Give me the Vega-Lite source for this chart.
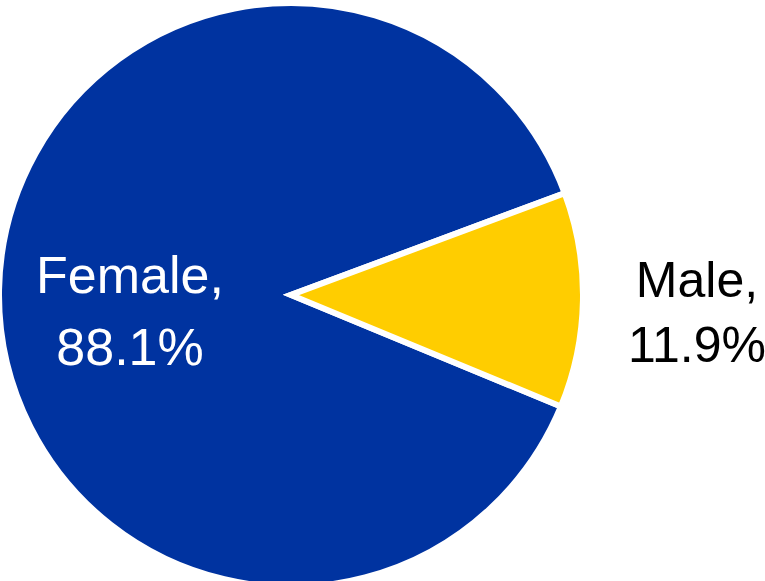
{
  "$schema": "https://vega.github.io/schema/vega-lite/v6.json",
  "width": 582,
  "height": 572,
  "autosize": {"type": "none"},
  "padding": {"left": 0, "top": 9, "right": 183, "bottom": 0},
  "background": "white",
  "config": {"view": {"stroke": null}},
  "data": {
    "values": [
      {"sex": "Female", "share": 88.1, "label": "Female, 88.1%"},
      {"sex": "Male", "share": 11.9, "label": "Male, 11.9%"}
    ]
  },
  "encoding": {
    "theta": {"field": "share", "type": "quantitative", "stack": true, "scale": {"range": [1.2147, 7.4979]}},
    "order": {"field": "sex", "sort": "descending"}
  },
  "layer": [
    {
      "mark": {"type": "arc", "outerRadius": 292, "stroke": "white", "strokeWidth": 6},
      "encoding": {
        "color": {"field": "sex", "type": "nominal", "legend": null,
          "scale": {"domain": ["Female", "Male"], "range": ["#0033a0", "#ffcd00"]}}
      }
    },
    {
      "mark": {"type": "text", "radius": 161, "font": "Liberation Sans", "fontSize": 52, "lineHeight": 72, "lineBreak": " ", "baseline": "alphabetic", "align": "center", "fill": "white", "dy": 1},
      "encoding": {
        "text": {"condition": {"test": "datum.sex === 'Female'", "field": "label"}, "value": ""}
      }
    },
    {
      "mark": {"type": "text", "radius": 406, "font": "Liberation Sans", "fontSize": 50, "lineHeight": 65, "lineBreak": " ", "baseline": "alphabetic", "align": "center", "fill": "black", "dy": -5},
      "encoding": {
        "text": {"condition": {"test": "datum.sex === 'Male'", "field": "label"}, "value": ""}
      }
    }
  ]
}
